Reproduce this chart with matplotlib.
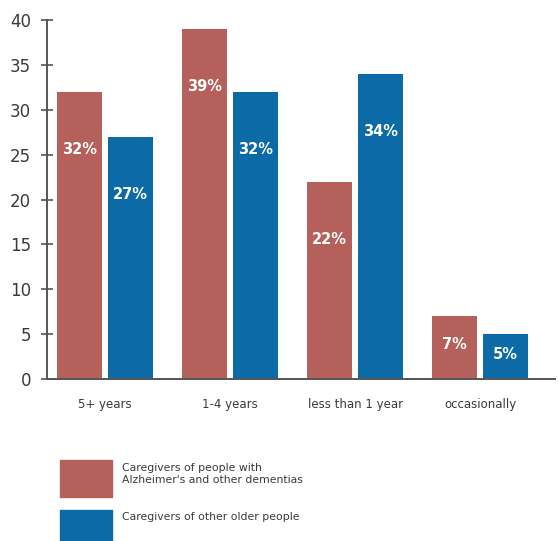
import numpy as np
import matplotlib.pyplot as plt
from matplotlib.patches import Rectangle

# caregiving duration, share of caregivers (%)
categories = ['5+ years', '1-4 years', 'less than 1 year', 'occasionally']
dementia = [32, 39, 22, 7]
other_older = [27, 32, 34, 5]
series_names = ["Caregivers of people with\nAlzheimer's and other dementias",
                'Caregivers of other older people']
yticks = [0, 5, 10, 15, 20, 25, 30, 35, 40]

red = '#B5605A'
blue = '#0C6BA6'
grey = '#3a3a3a'

fig = plt.figure(figsize=(5.59, 5.41), dpi=100)
ax = fig.add_axes([0.0841, 0.2994, 0.909, 0.6636])

x = np.arange(len(categories))
w = 0.36
off = 0.204
ax.bar(x - off, dementia, w, color=red)
ax.bar(x + off, other_older, w, color=blue)

# white percentage labels inside the bars
for xs, vals in [(x - off, dementia), (x + off, other_older)]:
    for xi, v in zip(xs, vals):
        ax.text(xi, max(v - 6.4, v * 0.55), f'{v}%', color='white',
                fontsize=10.5, fontweight='bold', ha='center', va='center')

ax.set_xlim(-0.464, 3.6)
ax.set_ylim(0, 40)
ax.set_yticks(yticks)
ax.set_xticks(x)
ax.set_xticklabels(categories, fontsize=8.5, color=grey)
ax.get_xticklabels()[0].set_x(-0.15)
ax.tick_params(axis='x', length=0, pad=14)
ax.tick_params(axis='y', direction='inout', length=9, width=1.2,
               color='#555555', labelsize=12, labelcolor=grey, pad=7)
for s in ['top', 'right']:
    ax.spines[s].set_visible(False)
for s in ['left', 'bottom']:
    ax.spines[s].set_color('#555555')
    ax.spines[s].set_linewidth(1.4)

# legend drawn as boxes with text beside them
W, H = 559, 541
for (y0, col, name, ty) in [(460, red, series_names[0], 474),
                            (510, blue, series_names[1], 517)]:
    fig.patches.append(Rectangle((60 / W, 1 - (y0 + 37) / H), 52 / W, 37 / H,
                                 transform=fig.transFigure, color=col))
    fig.text(122 / W, 1 - ty / H, name, fontsize=7.8, color=grey,
             va='center', ha='left', linespacing=1.25)

fig.savefig('out.png', dpi=100, facecolor='white')
